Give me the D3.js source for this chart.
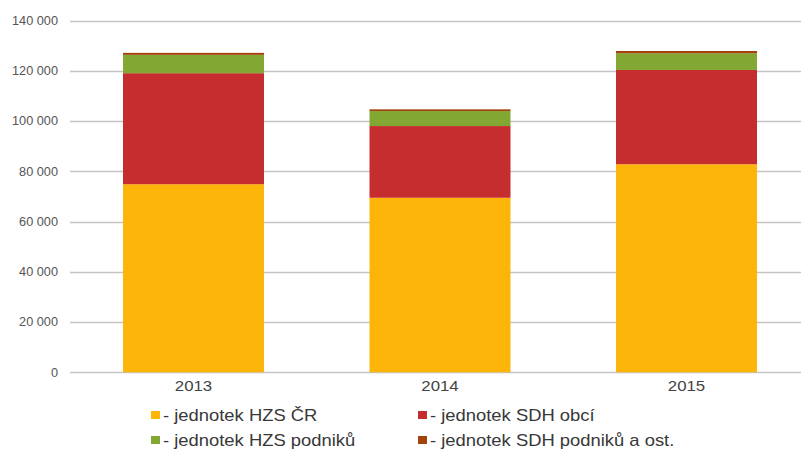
<!DOCTYPE html>
<html><head><meta charset="utf-8">
<script src="https://cdn.jsdelivr.net/npm/d3@7"></script>
<style>body{margin:0;background:#fff;}svg{display:block;font-family:"Liberation Sans",Arial,sans-serif;}</style>
</head><body><svg id="c" width="801" height="451"></svg>
<script>
const years = ["2013", "2014", "2015"];
const seriesNames = ["- jednotek HZS ČR", "- jednotek SDH obcí", "- jednotek HZS podniků", "- jednotek SDH podniků a ost."];
const hzsCR = [74900, 69500, 82850];
const sdhObci = [44200, 28550, 37530];
const hzsPodniku = [7300, 5970, 6650];
const sdhPodniku = [800, 680, 910];
const yTicks = [0, 20000, 40000, 60000, 80000, 100000, 120000, 140000];
const colors = ["#FDB50A", "#C52D2F", "#82A833", "#A3430C"];

const svg = d3.select("#c");
const x = d3.scaleBand().domain(years).range([70.25, 809.75]).paddingInner(0.428).paddingOuter(0.214);
const y = d3.scaleLinear().domain([0, 140000]).range([372.3, 20.7]);

const fmt = v => d3.format(",")(v).replace(/,/g, " ");

// gridlines
svg.append("g").selectAll("line").data(yTicks).join("line")
  .attr("x1", 70).attr("x2", 801)
  .attr("y1", d => Math.round(y(d)) + 0.5).attr("y2", d => Math.round(y(d)) + 0.5)
  .attr("stroke", "#c4c4c4").attr("stroke-width", 1.3);

// y labels
svg.append("g").selectAll("text").data(yTicks).join("text")
  .attr("transform", d => `translate(58,${y(d)}) scale(1.06,1)`)
  .attr("dy", "0.35em")
  .attr("text-anchor", "end").attr("font-size", 12).attr("fill", "#555")
  .text(d => fmt(d));

// stack
const rows = years.map((yr, i) => ({year: yr, s0: hzsCR[i], s1: sdhObci[i], s2: hzsPodniku[i], s3: sdhPodniku[i]}));
const stack = d3.stack().keys(["s0", "s1", "s2", "s3"])(rows);
svg.append("g").selectAll("g").data(stack).join("g")
  .attr("fill", (d, i) => colors[i])
  .selectAll("rect").data(d => d).join("rect")
  .attr("x", d => x(d.data.year)).attr("width", x.bandwidth())
  .attr("y", d => y(d[1])).attr("height", d => y(d[0]) - y(d[1]));

// x labels
svg.append("g").selectAll("text").data(years).join("text")
  .attr("transform", d => `translate(${x(d) + x.bandwidth() / 2},${391}) scale(1.16,1)`)
  .attr("text-anchor", "middle").attr("font-size", 14.5).attr("fill", "#444")
  .text(d => d);

// legend
const legPos = [[151, 415], [418, 415], [151, 440], [418, 440]];
const leg = svg.append("g").selectAll("g").data(seriesNames).join("g")
  .attr("transform", (d, i) => `translate(${legPos[i][0]},${legPos[i][1]})`);
leg.append("rect").attr("x", 0).attr("y", -4).attr("width", 9).attr("height", 8).attr("fill", (d, i) => colors[i]);
leg.append("text").attr("transform", "translate(12,0) scale(1.15,1)").attr("dy", "0.35em")
  .attr("font-size", 16).attr("fill", "#383838").text(d => d);
</script></body></html>
